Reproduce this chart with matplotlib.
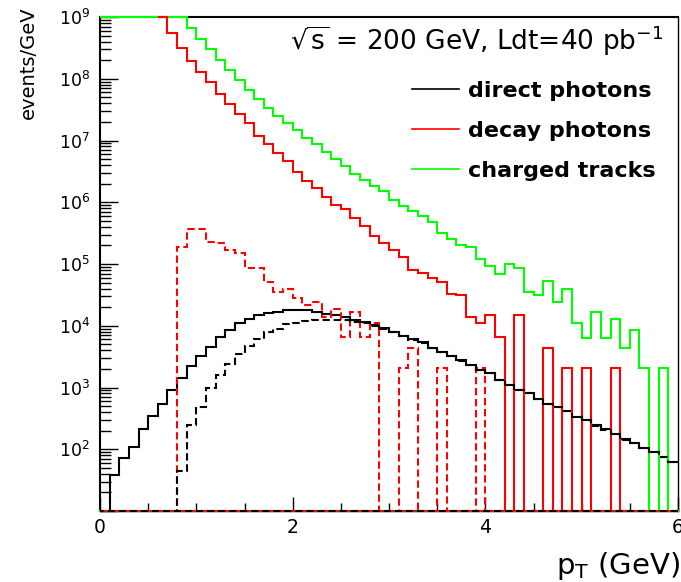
import numpy as np
import matplotlib
matplotlib.use("Agg")
import matplotlib.pyplot as plt
from matplotlib.ticker import LogLocator, NullFormatter, MultipleLocator, FuncFormatter
from matplotlib.lines import Line2D
from matplotlib.transforms import Bbox, TransformedBbox

plt.rcParams['font.family'] = ['DejaVu Sans']
plt.rcParams['mathtext.fontset'] = 'dejavusans'

# bin edges in pT (GeV), 0.1 GeV bins
pt_edges = np.round(np.linspace(0.0, 6.0, 61), 2)

# direct photons (solid black)
direct = [0, 39, 71, 110, 210, 350, 550, 910, 1.4e3, 2.2e3,
          3.2e3, 4.6e3, 6.6e3, 8.5e3, 1.1e4, 1.3e4, 1.5e4, 1.6e4, 1.7e4, 1.8e4,
          1.8e4, 1.8e4, 1.66e4, 1.55e4, 1.48e4, 1.38e4, 1.26e4, 1.15e4, 1.02e4, 9.1e3,
          7.9e3, 6.8e3, 6.0e3, 5.4e3, 4.3e3, 3.8e3, 3.2e3, 2.75e3, 2.3e3, 1.9e3,
          1.7e3, 1.3e3, 1.1e3, 910, 810, 660, 550, 490, 420, 330,
          300, 245, 210, 178, 145, 126, 105, 91, 76, 63]

# direct photons after cut (dashed black)
direct_cut = [0, 0, 0, 0, 0, 0, 0, 0, 44, 245,
              490, 980, 1.6e3, 2.4e3, 3.5e3, 4.7e3, 6.2e3, 7.8e3, 8.7e3, 1.05e4,
              1.12e4, 1.2e4, 1.23e4, 1.26e4, 1.26e4, 1.23e4, 1.17e4, 1.1e4, 1.0e4, 9.0e3,
              7.8e3, 6.7e3, 5.9e3, 5.3e3, 4.3e3, 3.7e3, 3.2e3, 2.7e3, 2.3e3, 1.9e3,
              1.7e3, 1.3e3, 1.1e3, 900, 800, 650, 540, 480, 410, 330,
              300, 240, 205, 175, 143, 124, 103, 90, 75, 62]

# decay photons (solid red); nan = off scale (above the frame, not drawn)
decay = [np.nan, np.nan, np.nan, np.nan, np.nan, np.nan, 1e9, 5.5e8, 3.2e8, 1.95e8,
         1.3e8, 8.7e7, 5.6e7, 3.9e7, 2.7e7, 1.9e7, 1.2e7, 8.9e6, 6.3e6, 4.6e6,
         3.1e6, 2.2e6, 1.7e6, 1.2e6, 9.1e5, 7.8e5, 5.5e5, 4.2e5, 2.8e5, 2.2e5,
         1.7e5, 1.3e5, 7.9e4, 7.1e4, 5.9e4, 5.1e4, 3.3e4, 3.2e4, 1.4e4, 1.1e4,
         1.5e4, 6.6e3, 0, 1.5e4, 0, 0, 4.4e3, 0, 2.1e3, 0,
         2.1e3, 0, 0, 2.1e3, 0, 0, 0, 0, 0, 0]

# decay photons after cut (dashed red)
decay_cut = [0, 0, 0, 0, 0, 0, 0, 0, 1.9e5, 3.7e5,
             3.7e5, 2.3e5, 2.2e5, 1.7e5, 1.5e5, 8.7e4, 8.7e4, 5.1e4, 3.5e4, 3.9e4,
             2.8e4, 2.2e4, 2.4e4, 1.4e4, 1.9e4, 6.6e3, 1.7e4, 6.6e3, 1.1e4, 0,
             0, 2.1e3, 4.3e3, 0, 0, 2.1e3, 0, 0, 0, 2.1e3,
             0, 0, 0, 0, 0, 0, 0, 0, 0, 0,
             0, 0, 0, 0, 0, 0, 0, 0, 0, 0]

# charged tracks (solid green)
charged = [1e9, 1e9, 1e9, 1e9, 1e9, 1e9, 1e9, 1e9, 1e9, 6.6e8,
           4.4e8, 3.0e8, 2.0e8, 1.4e8, 9.5e7, 6.6e7, 4.7e7, 3.3e7, 2.5e7, 1.95e7,
           1.5e7, 1.1e7, 8.7e6, 6.6e6, 5.0e6, 3.9e6, 2.9e6, 2.3e6, 1.8e6, 1.5e6,
           1.1e6, 8.7e5, 7.1e5, 5.9e5, 4.7e5, 3.2e5, 2.5e5, 2.0e5, 1.9e5, 1.2e5,
           9.3e4, 6.9e4, 1.0e5, 8.5e4, 3.5e4, 3.1e4, 5.4e4, 2.4e4, 3.9e4, 1.1e4,
           6.3e3, 1.7e4, 6.3e3, 1.3e4, 4.3e3, 8.5e3, 2.1e3, 0, 2.1e3, 0]

legend_labels = ['direct photons', 'decay photons', 'charged tracks']
y_min, y_max = 10, 1e9

fig = plt.figure(figsize=(6.81, 5.82), dpi=100)
ax = fig.add_axes([100/681, 71/582, 578/681, 494/582])
ax.set_yscale('log')
ax.set_xlim(0, 6)
ax.set_ylim(y_min, y_max)

# clip region: axes area, slightly extended at the top so lines at the frame show fully
clip_box = TransformedBbox(Bbox([[0.0, 0.0], [1.0, 1.006]]), ax.transAxes)

lw = 1.5
dash = (0, (3.5, 1.8))
arts = []
arts.append(ax.stairs(direct, pt_edges, color='black', lw=lw, baseline=None, zorder=3.0))
arts.append(ax.stairs(charged, pt_edges, color='#00ff00', lw=lw, baseline=None, zorder=3.1))
arts.append(ax.stairs(decay, pt_edges, color='#ff0000', lw=lw, baseline=None, zorder=3.2))
arts.append(ax.stairs(decay_cut, pt_edges, color='#ff0000', lw=lw, ls=dash, baseline=None, zorder=3.3))
arts.append(ax.stairs(direct_cut, pt_edges, color='black', lw=lw, ls=dash, baseline=None, zorder=3.4))
for a in arts:
    a.set_clip_path(None)
    a.set_clip_box(clip_box)

ax.axhline(y_min, color='#00ff00', lw=lw, zorder=3.15, clip_on=False)
ax.axhline(y_min, color='#ff0000', lw=lw, ls=dash, zorder=3.35, clip_on=False)
ax.axhline(y_min, color='black', lw=lw, ls=(1.7, (3.5, 1.8)), zorder=3.45, clip_on=False)

for side in ['left', 'top']:
    ax.spines[side].set_linewidth(1.5)
ax.spines['right'].set_linewidth(1.0)
ax.spines['bottom'].set_linewidth(1.0)

ax.xaxis.set_major_locator(MultipleLocator(2))
ax.xaxis.set_minor_locator(MultipleLocator(0.5))
ax.yaxis.set_major_locator(LogLocator(base=10, numticks=20))
ax.yaxis.set_minor_locator(LogLocator(base=10, subs=np.arange(2, 10), numticks=20))
ax.yaxis.set_minor_formatter(NullFormatter())
ax.yaxis.set_major_formatter(FuncFormatter(
    lambda v, p: '' if v < 50 else r'$10^{%d}$' % int(round(np.log10(v)))))

ax.tick_params(axis='both', which='both', direction='in', top=False, right=False)
ax.tick_params(axis='y', which='major', length=13, width=1, labelsize=12.5, pad=7)
ax.tick_params(axis='y', which='minor', length=8, width=1)
ax.tick_params(axis='x', which='major', length=10, width=1, labelsize=13.5, pad=5)
ax.tick_params(axis='x', which='minor', length=6, width=1)

ax.set_ylabel('events/GeV', fontsize=14, loc='top')
ax.yaxis.set_label_coords(-0.108, 1.022)
ax.set_xlabel(r'p$_{\mathrm{T}}$ (GeV)', fontsize=21, loc='right')
ax.xaxis.set_label_coords(1.004, -0.078)

ax.text(0.974, 0.933, r'$\sqrt{\mathrm{s}}$ = 200 GeV, Ldt=40 pb$^{-1}$',
        transform=ax.transAxes, ha='right', va='baseline', fontsize=19)

handles = [Line2D([], [], color=c, lw=1.2) for c in ['black', '#ff0000', '#00ff00']]
ax.legend(handles, legend_labels, loc='upper left', bbox_to_anchor=(0.540, 0.871),
          frameon=False, borderpad=0, borderaxespad=0, handlelength=2.1,
          handletextpad=0.42, labelspacing=0.9,
          prop={'size': 16, 'weight': 'bold'})

fig.savefig('out.png', dpi=100)
